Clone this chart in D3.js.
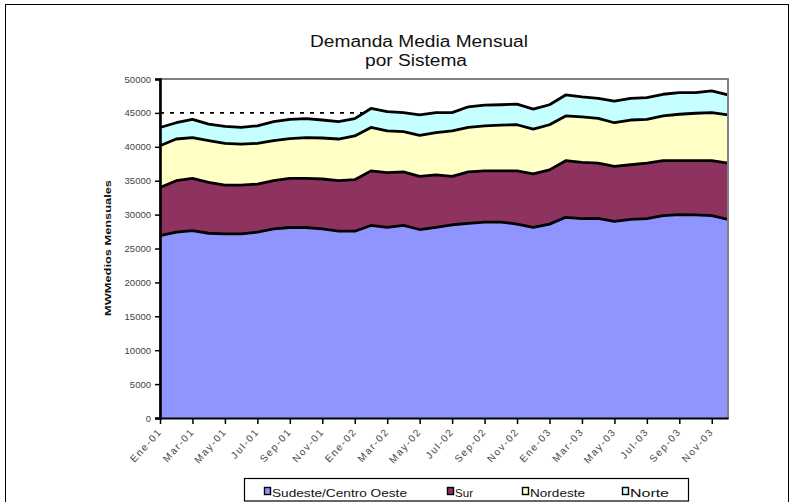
<!DOCTYPE html>
<html><head><meta charset="utf-8">
<script src="https://cdn.jsdelivr.net/npm/d3@7"></script>
<style>body{margin:0;background:#fff}svg{display:block;font-family:"Liberation Sans",Arial,sans-serif}</style>
</head><body><svg id="c" width="794" height="502"></svg>
<script>
const months = ["Ene-01","Feb-01","Mar-01","Abr-01","May-01","Jun-01","Jul-01","Ago-01","Sep-01","Oct-01","Nov-01","Dic-01",
"Ene-02","Feb-02","Mar-02","Abr-02","May-02","Jun-02","Jul-02","Ago-02","Sep-02","Oct-02","Nov-02","Dic-02",
"Ene-03","Feb-03","Mar-03","Abr-03","May-03","Jun-03","Jul-03","Ago-03","Sep-03","Oct-03","Nov-03","Dic-03"];
const sudeste = [26900,27400,27650,27250,27150,27150,27400,27900,28100,28100,27900,27550,27550,28400,28100,28400,27800,28100,
28500,28700,28900,28900,28600,28100,28600,29600,29400,29450,29000,29300,29400,29850,30000,29950,29850,29300];
const sur = [7100,7600,7700,7500,7200,7200,7100,7100,7250,7250,7350,7450,7600,8050,8100,7900,7850,7750,
7150,7600,7550,7550,7850,7900,8000,8350,8300,8150,8100,8050,8200,8100,7950,8000,8100,8300];
const nordeste = [6150,6150,6000,6150,6150,6050,6000,5900,5850,6000,6050,6150,6450,6400,6150,5950,6050,6250,
6700,6550,6650,6750,6800,6600,6650,6600,6700,6600,6450,6600,6450,6600,6850,7000,7100,7100];
const norte = [2700,2400,2700,2450,2500,2450,2600,2800,2850,2800,2650,2550,2550,2800,2850,2800,3000,2950,
2700,3050,3050,3000,3050,2950,2950,3100,2950,2950,3200,3200,3200,3200,3200,3050,3200,2950];
const seriesNames = ["Sudeste/Centro Oeste","Sur","Nordeste","Norte"];
const seriesColors = ["#8f94fe","#8e3360","#ffffc6","#c6ffff"];
const yTicks = [0,5000,10000,15000,20000,25000,30000,35000,40000,45000,50000];
const xTickLabels = months.filter((m,i)=>i%2===0);
const titleLines = ["Demanda Media Mensual","por Sistema"];
const yTitle = "MWMedios Mensuales";
const refLine = {value:45000, from:"Ene-01", to:"Feb-02"};

const svg = d3.select("#c");
svg.append("rect").attr("x",5.5).attr("y",4.5).attr("width",783).attr("height",520)
  .attr("fill","#fff").attr("stroke","#000").attr("stroke-width",1);

const L=160,R=728,T=79,B=418;
const x = d3.scalePoint().domain(months).range([L,R]);
const y = d3.scaleLinear().domain([0,50000]).range([B,T]);

// title
svg.append("text").attr("x",419).attr("y",47).attr("text-anchor","middle").attr("font-size",16)
  .attr("textLength",218).attr("lengthAdjust","spacingAndGlyphs").attr("fill","#111").text(titleLines[0]);
svg.append("text").attr("x",416).attr("y",65.5).attr("text-anchor","middle").attr("font-size",16)
  .attr("textLength",102).attr("lengthAdjust","spacingAndGlyphs").attr("fill","#111").text(titleLines[1]);

// plot border (gray)
svg.append("rect").attr("x",L).attr("y",T).attr("width",R-L).attr("height",B-T)
  .attr("fill","#fff").attr("stroke","#808080").attr("stroke-width",2);

// reference dashed line (behind areas)
svg.append("line").attr("x1",x(refLine.from)).attr("x2",x(refLine.to))
  .attr("y1",y(refLine.value)).attr("y2",y(refLine.value))
  .attr("stroke","#000").attr("stroke-width",1.8).attr("stroke-dasharray","4,6");

const table = months.map((m,i)=>({m, s0:sudeste[i], s1:sur[i], s2:nordeste[i], s3:norte[i]}));
const stack = d3.stack().keys(["s0","s1","s2","s3"])(table);
const area = d3.area().x(d=>x(d.data.m)).y0(d=>y(d[0])).y1(d=>y(d[1]));
const line = d3.line().x(d=>x(d.data.m)).y(d=>y(d[1]));
const g = svg.append("g");
stack.forEach((s,k)=>{
  g.append("path").attr("d",area(s)).attr("fill",seriesColors[k]).attr("stroke","none");
});
stack.forEach((s,k)=>{
  g.append("path").attr("d",line(s)).attr("fill","none").attr("stroke","#000").attr("stroke-width",2.8)
   .attr("stroke-linejoin","round");
});
// right edge gray
svg.append("line").attr("x1",R).attr("x2",R).attr("y1",T).attr("y2",B).attr("stroke","#808080").attr("stroke-width",2);

// y axis
const yAxis = svg.append("g").attr("transform",`translate(${L},0)`)
  .call(d3.axisLeft(y).tickValues(yTicks).tickSize(5).tickPadding(4).tickFormat(d3.format("d")));
yAxis.select(".domain").attr("stroke","#000").attr("stroke-width",2.6);
yAxis.selectAll(".tick line").attr("stroke","#000").attr("stroke-width",1.5);
yAxis.selectAll(".tick text").attr("font-size",9.5).attr("fill","#444").attr("font-family","Liberation Sans, Arial, sans-serif");

// x axis
const xAxis = svg.append("g").attr("transform",`translate(0,${B})`)
  .call(d3.axisBottom(x).tickValues(xTickLabels).tickSize(6).tickSizeOuter(0));
xAxis.select(".domain").attr("stroke","#000").attr("stroke-width",2.2);
xAxis.selectAll(".tick line").attr("stroke","#000").attr("stroke-width",1.5);
xAxis.selectAll(".tick text").attr("font-size",10).attr("fill","#444").attr("letter-spacing","1.6px")
  .attr("font-family","Liberation Sans, Arial, sans-serif")
  .attr("text-anchor","end").attr("dy",null).attr("y",0)
  .attr("transform","translate(2,14) rotate(-48)");

// y title
svg.append("text").attr("transform","translate(111,248) rotate(-90)").attr("text-anchor","middle")
  .attr("font-size",9.5).attr("font-weight","bold").attr("fill","#111")
  .attr("textLength",136).attr("lengthAdjust","spacingAndGlyphs").text(yTitle);

// legend
const lg = svg.append("g");
lg.append("rect").attr("x",244.5).attr("y",478.5).attr("width",444).attr("height",22.5)
  .attr("fill","#fff").attr("stroke","#000").attr("stroke-width",1.2);
const legX = [264,447,522,622];
const legW = [135,18,55,39];
seriesNames.forEach((n,k)=>{
  lg.append("rect").attr("x",legX[k]+0.5).attr("y",487.5).attr("width",6).attr("height",7)
    .attr("fill",seriesColors[k]).attr("stroke","#000").attr("stroke-width",1.4);
  lg.append("text").attr("x",legX[k]+8).attr("y",496.5).attr("font-size",10.5).attr("fill","#111")
    .attr("textLength",legW[k]).attr("lengthAdjust","spacingAndGlyphs").text(n);
});
</script></body></html>
